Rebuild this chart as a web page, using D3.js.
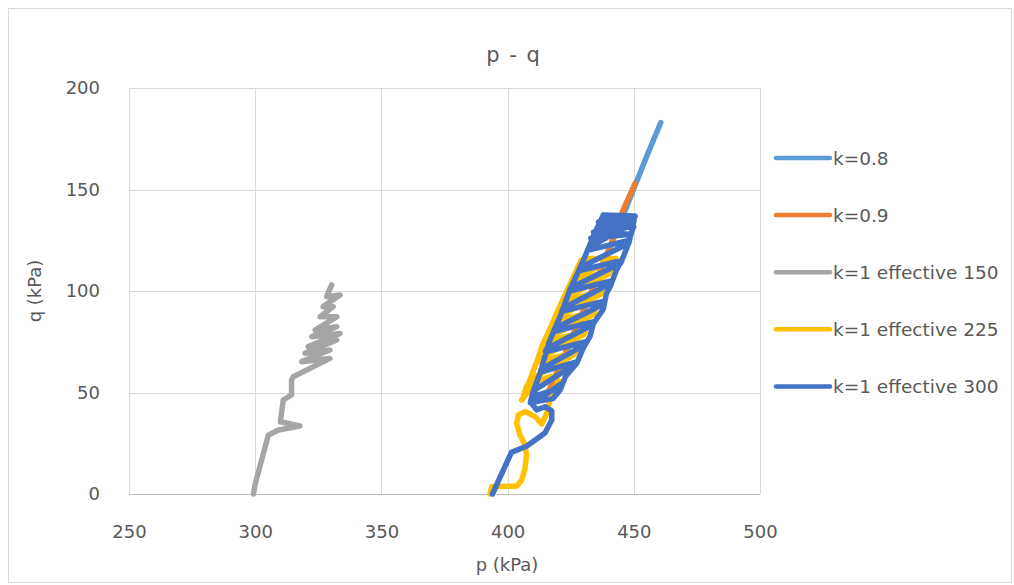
<!DOCTYPE html>
<html>
<head>
<meta charset="utf-8">
<script src="https://cdn.jsdelivr.net/npm/d3@7"></script>
<style>
  html, body { margin: 0; padding: 0; background: #fff; }
  svg text { font-family: "DejaVu Sans", "Open Sans", sans-serif; fill: #595959; }
</style>
</head>
<body>
<svg id="chart" width="1014" height="585"></svg>
<script>
// p - q stress paths
const seriesNames = ["k=0.8", "k=0.9", "k=1 effective 150", "k=1 effective 225", "k=1 effective 300"];
const seriesColors = ["#5B9BD5", "#ED7D31", "#A5A5A5", "#FFC000", "#4472C4"];

const xTicks = [250, 300, 350, 400, 450, 500];
const yTicks = [0, 50, 100, 150, 200];

// [p, q] pairs
const k08 = [[416, 50], [420, 60], [427, 81], [434, 102], [440, 120], [446, 138], [450.5, 152], [455, 166], [460.7, 183]];

const k09 = [[416, 50], [422, 66.8], [427.4, 83], [435, 105], [440.6, 122], [445.8, 140], [450.5, 153]];

const k1_150 = [[299.3, 0], [300, 5], [305.2, 29], [309.2, 31.5], [317.7, 33.5], [310, 35.6], [311.1, 46.3],
  [314.4, 48.8], [314.4, 56], [315.1, 57.8], [329.6, 66.8], [318.4, 65.2], [329.6, 70.9], [319.7, 69.3],
  [332.3, 75.9], [321, 72.6], [333.6, 79.1], [322.4, 77.5], [332.3, 82.4], [323.7, 80.8], [332.3, 87.3],
  [325.7, 87.3], [330.9, 92.3], [326.9, 92.3], [333.6, 98], [328.3, 97.2], [330.3, 103]];

const k1_225 = [[393, 0], [393.7, 3.6], [403.6, 3.9], [405.6, 6.9], [406.9, 12.6], [407.5, 19.2], [406.9, 24.1],
  [404.9, 29.1], [403.6, 34.8], [404.3, 38.9], [406.9, 40.6], [410.9, 38.1], [413.5, 34.5], [415.5, 39.7],
  [416.8, 46.3], [418.8, 52.9], [420.5, 55.5], [417, 58], [411, 55], [408.5, 51], [405.6, 46.3], [406, 47],
  [407.5, 53], [408.7, 55], [409.2, 56.5], [426.2, 68.5], [427, 70], [412, 65],
  [412.4, 66.5], [430.2, 78.5], [430.8, 80], [414.9, 75],
  [415.4, 76.5], [434.1, 88.5], [434.6, 90], [418.6, 85],
  [419.3, 86.5], [437, 98.5], [437.4, 100], [422.5, 95],
  [423.2, 96.5], [440.1, 108.5], [440.7, 110], [426, 105],
  [426.5, 106.5], [443, 116], [431, 116], [429, 115], [426.5, 108], [423.5, 100], [422, 96], [420, 90.6],
  [417, 82], [414, 74], [411.5, 65], [408.8, 56], [406, 47]];

const k1_300 = [[394, 0], [401.5, 20.5], [407.5, 23.5], [414.8, 30], [417.5, 36.5], [417.5, 41], [414.8, 43],
  [411.5, 41.4], [409.5, 44.7], [412.2, 46.3], [420.8, 54], [418, 51], [410, 48],
  [410.7, 50], [411.1, 51.5], [426.2, 63.5], [427, 65], [413, 60],
  [413.3, 61.5], [430.5, 73.5], [431, 75], [415, 70],
  [415.4, 71.5], [433.8, 83.5], [434.5, 85], [418.2, 80],
  [418.7, 81.5], [437.9, 93.5], [438.3, 95], [421.5, 90],
  [422, 91.5], [440.5, 103.5], [441.1, 105], [424.5, 100],
  [424.9, 101.5], [444.7, 113.5], [445.3, 115], [428.2, 110],
  [428.7, 111.5], [448, 123.5], [448.3, 125], [431.6, 120],
  [432.2, 121.5], [449.9, 133.5], [450.1, 135], [435.1, 130],
  [435.6, 131.5], [450.5, 137], [437.9, 137.4], [449, 134], [436, 134], [450.5, 136.6],
  [433, 126], [449, 128], [434, 129], [450, 131.7],
  [449.8, 131.7], [447.5, 122], [445.9, 117], [443, 110], [440.6, 102], [439.2, 99], [437.9, 91],
  [434, 84], [432.6, 77.5], [430, 72], [427.4, 64.4], [423, 58], [420.8, 51.2], [418, 47], [409, 45],
  [410, 50], [413, 60], [416.5, 75], [421, 88], [424.5, 100], [428.2, 110], [431, 118], [434, 127], [437.9, 137.4]];

const seriesData = [k08, k09, k1_150, k1_225, k1_300];

const svg = d3.select("#chart");

// outer chart frame
svg.append("rect")
  .attr("x", 8.5).attr("y", 8.5)
  .attr("width", 1003).attr("height", 574)
  .attr("fill", "#fff")
  .attr("stroke", "#d9d9d9");

const plot = { left: 129, right: 760, top: 88, bottom: 494 };

const x = d3.scaleLinear().domain([250, 500]).range([plot.left, plot.right]);
const y = d3.scaleLinear().domain([0, 200]).range([plot.bottom, plot.top]);

// gridlines
const grid = svg.append("g");
grid.selectAll("line.h")
  .data(yTicks)
  .join("line")
  .attr("class", "h")
  .attr("x1", plot.left).attr("x2", plot.right)
  .attr("y1", d => Math.round(y(d)) + 0.5).attr("y2", d => Math.round(y(d)) + 0.5)
  .attr("stroke", d => d === 0 ? "#bfbfbf" : "#d9d9d9")
  .attr("stroke-width", 1);
grid.selectAll("line.v")
  .data(xTicks)
  .join("line")
  .attr("class", "v")
  .attr("x1", d => Math.round(x(d)) + 0.5).attr("x2", d => Math.round(x(d)) + 0.5)
  .attr("y1", plot.top).attr("y2", plot.bottom)
  .attr("stroke", "#d9d9d9")
  .attr("stroke-width", 1);

// axes (labels only, like Excel)
const xAxis = svg.append("g")
  .attr("transform", `translate(0,${plot.bottom})`)
  .call(d3.axisBottom(x).tickValues(xTicks).tickSize(0).tickPadding(31));
const yAxis = svg.append("g")
  .attr("transform", `translate(${plot.left},0)`)
  .call(d3.axisLeft(y).tickValues(yTicks).tickSize(0).tickPadding(29));
[xAxis, yAxis].forEach(a => {
  a.select(".domain").remove();
  a.selectAll("text")
    .attr("font-size", 18)
    .attr("fill", "#595959")
    .attr("font-family", "\"DejaVu Sans\", sans-serif");
});

// series lines
const line = d3.line().x(d => x(d[0])).y(d => y(d[1]));
svg.append("g")
  .selectAll("path")
  .data(seriesData)
  .join("path")
  .attr("d", line)
  .attr("fill", "none")
  .attr("stroke", (d, i) => seriesColors[i])
  .attr("stroke-width", 5.5)
  .attr("stroke-linejoin", "round")
  .attr("stroke-linecap", "round");

// title
svg.append("text")
  .attr("x", 513).attr("y", 62)
  .attr("text-anchor", "middle")
  .attr("font-size", 21)
  .attr("word-spacing", 3)
  .text("p - q");

// axis titles
svg.append("text")
  .attr("x", 507).attr("y", 571)
  .attr("text-anchor", "middle")
  .attr("font-size", 18)
  .text("p (kPa)");
svg.append("text")
  .attr("transform", "translate(41,291) rotate(-90)")
  .attr("text-anchor", "middle")
  .attr("font-size", 18)
  .text("q (kPa)");

// legend
const legend = svg.append("g")
  .selectAll("g")
  .data(seriesNames)
  .join("g")
  .attr("transform", (d, i) => `translate(776,${158 + i * 57.1})`);
legend.append("line")
  .attr("x1", 0).attr("x2", 54)
  .attr("stroke", (d, i) => seriesColors[i])
  .attr("stroke-width", 4.5)
  .attr("stroke-linecap", "round");
legend.append("text")
  .attr("x", 57).attr("y", 6.5)
  .attr("font-size", 18.5)
  .text(d => d);
</script>
</body>
</html>
